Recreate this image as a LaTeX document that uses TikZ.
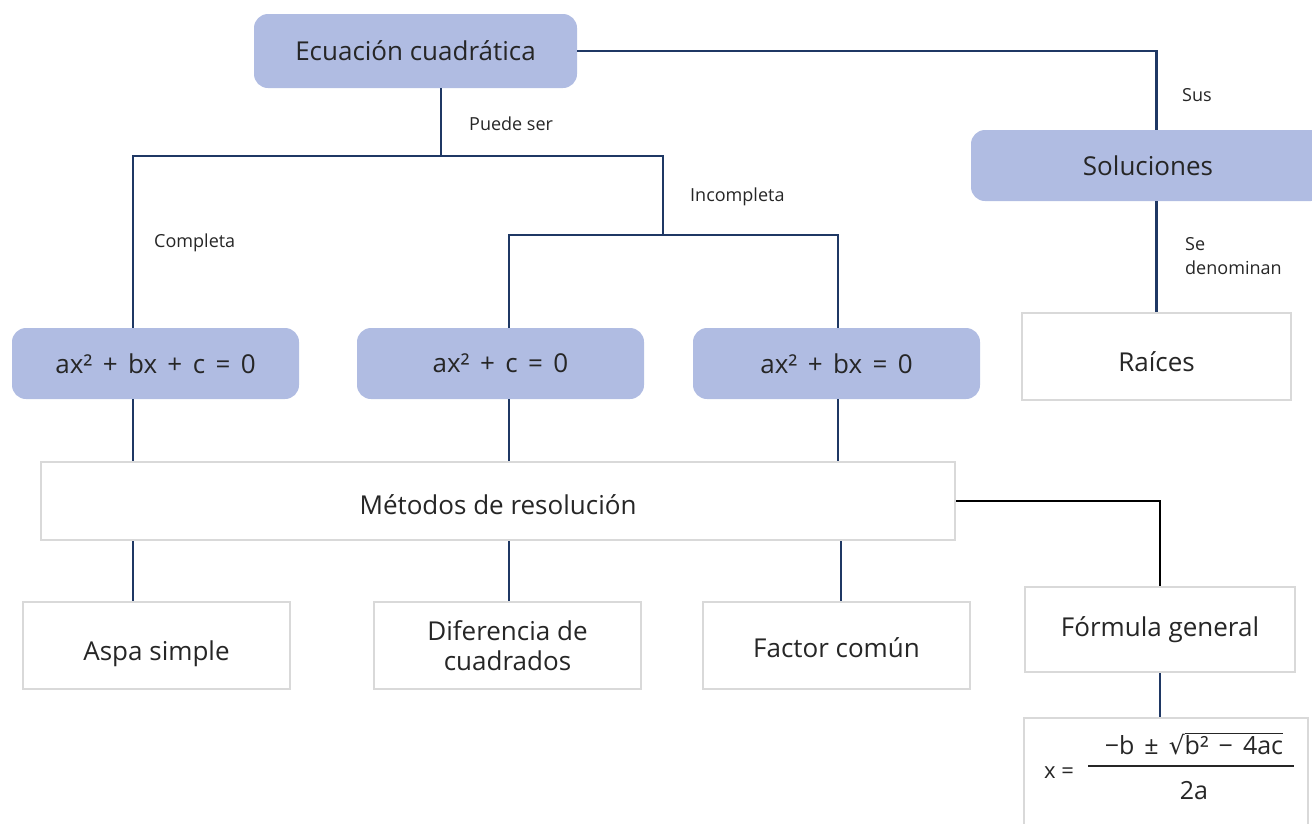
\documentclass[tikz,border=0pt]{standalone}
\usepackage{fontspec}
\setmainfont{Open Sans}
\newfontfamily\dv{DejaVu Sans}
\definecolor{lav}{HTML}{B0BCE2}
\definecolor{bord}{HTML}{D9D9D9}
\definecolor{navy}{HTML}{1F3864}
\definecolor{txt}{HTML}{262626}
\newcommand{\ws}{\hspace{0.4em}}
\newcommand{\lowr}[2]{\raisebox{-#1}[\height][\depth]{#2}}
\begin{document}
\begin{tikzpicture}[x=1pt,y=-1pt,
  blue/.style={fill=lav, draw=none, rounded corners=14pt, inner sep=0pt, text=txt, font=\fontsize{26}{30}\selectfont},
  gbox/.style={draw=bord, line width=2pt, fill=white, inner sep=0pt, text=txt, font=\fontsize{26}{30}\selectfont, align=center},
  link/.style={draw=navy, line width=2.2pt},
  blk/.style={draw=black, line width=2.2pt},
  lbl/.style={font=\fontsize{18}{24}\selectfont, text=txt, anchor=west, inner sep=0pt, align=left}]
\useasboundingbox (0,0) rectangle (1312,823);
% nodes
\node[blue, minimum width=323pt, minimum height=74pt] (ecu) at (415.5,51) {Ecuación cuadrática};
\node[blue, minimum width=354pt, minimum height=71pt] (sol) at (1148,165.5) {Soluciones};
\node[gbox, minimum width=269pt, minimum height=87pt] (raiz) at (1156.5,356.5) {\lowr{5pt}{Raíces}};
\node[blue, minimum width=287pt, minimum height=71pt] (eq1) at (155.5,363.5) {ax²\ws+\ws bx\ws+\ws c\ws=\ws 0};
\node[blue, minimum width=287pt, minimum height=71pt] (eq2) at (500.5,363.5) {ax²\ws+\ws c\ws=\ws 0};
\node[blue, minimum width=287pt, minimum height=71pt] (eq3) at (836.5,363.5) {ax²\ws+\ws bx\ws=\ws 0};
\node[gbox, minimum width=914pt, minimum height=78pt] (met) at (498,501) {\lowr{4pt}{Métodos de resolución}};
\node[gbox, minimum width=267pt, minimum height=87pt] (aspa) at (156.5,645.5) {\lowr{8pt}{Aspa simple}};
\node[gbox, minimum width=267pt, minimum height=87pt] (dif) at (507.5,645.5) {Diferencia de\\cuadrados};
\node[gbox, minimum width=267pt, minimum height=87pt] (fac) at (836.5,645.5) {\lowr{2pt}{Factor común}};
\node[gbox, minimum width=270pt, minimum height=85pt] (form) at (1160,629.5) {Fórmula general};
\node[gbox, minimum width=284pt, minimum height=115pt] (fbox) at (1166,775.5) {};
% formula
\node[text=txt, font=\fontsize{22}{26}\selectfont, inner sep=0pt] (fx) at (1059,773) {x =};
\node[text=txt, font=\fontsize{25}{30}\selectfont, inner sep=0pt, anchor=base] (fnum) at (1194,754) {−b\ws±\ws{\dv\fontsize{25}{30}\selectfont √}$\overline{\hbox{b²\ws−\ws 4ac}}$};
\node[text=txt, font=\fontsize{25}{30}\selectfont, inner sep=0pt, anchor=base] (fden) at (1194,799) {2a};
\coordinate (fl1) at (1088,766);
\coordinate (fl2) at (1294,766);
\draw[draw=txt, line width=1.6pt] (fl1) -- (fl2);
% columns / junctions
\coordinate (colA) at (133,0);
\coordinate (colB) at (509,0);
\coordinate (colC) at (838,0);
\coordinate (colD) at (841,0);
\coordinate (j1) at (441,156);
\coordinate (j2) at (663,235);
% connectors
\draw[link] (ecu.east) -| (raiz.north |- sol.north);
\draw[link] (sol.south -| raiz.north) -- (raiz.north);
\draw[link] (j1 |- ecu.south) -- (j1);
\draw[link] (colA |- eq1.north) |- (j1) -| (j2);
\draw[link] (colB |- eq2.north) |- (j2) -| (colC |- eq3.north);
\draw[link] (colA |- eq1.south) -- (colA |- met.north);
\draw[link] (colB |- eq2.south) -- (colB |- met.north);
\draw[link] (colC |- eq3.south) -- (colC |- met.north);
\draw[link] (colA |- met.south) -- (colA |- aspa.north);
\draw[link] (colB |- met.south) -- (colB |- dif.north);
\draw[link] (colD |- met.south) -- (colD |- fac.north);
\draw[blk] (met.east) -| (form.north);
\draw[link] (form.south) -- (form.south |- fbox.north);
% labels
\node[lbl] (lsus) at (1182,95) {Sus};
\node[lbl] (lpuede) at (469,124) {Puede ser};
\node[lbl] (lcomp) at (154,243) {Completa};
\node[lbl] (linc) at (690,197) {Incompleta};
\node[lbl] (lse) at (1185,256) {Se\\denominan};
\end{tikzpicture}
\end{document}
